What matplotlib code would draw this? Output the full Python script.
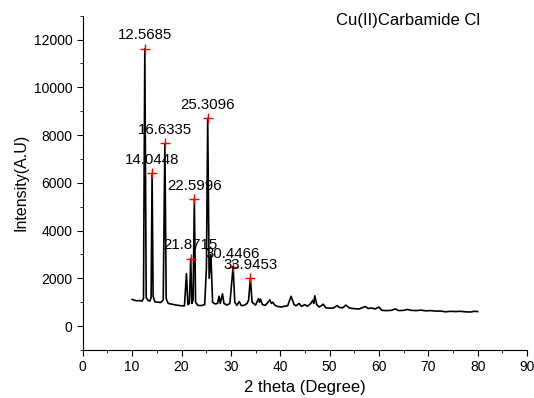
import matplotlib
matplotlib.use("Agg")
import matplotlib.pyplot as plt
from matplotlib.ticker import MultipleLocator

plt.rcParams['font.family'] = ['Liberation Sans', 'DejaVu Sans']

two_theta = [10.0, 10.5, 11.0, 11.5, 12.0, 12.3, 12.57, 12.85, 13.2, 13.6, 13.85, 14.04, 14.25,
             14.6, 15.2, 15.8, 16.3, 16.63, 16.9, 17.3, 18.0, 19.0, 20.0, 20.6, 21.0, 21.3, 21.6,
             21.87, 22.1, 22.35, 22.6, 22.85, 23.3, 24.0, 24.7, 25.05, 25.31, 25.6, 25.95, 26.3,
             26.8, 27.3, 27.6, 27.85, 28.3, 28.6, 29.2, 29.8, 30.45, 30.8, 31.2, 31.7, 32.1, 32.7,
             33.3, 33.6, 33.95, 34.3, 35.0, 35.6, 35.8, 36.0, 36.4, 37.0, 37.9, 38.2, 38.5, 38.9,
             39.5, 40.2, 40.8, 41.5, 42.2, 42.8, 43.2, 43.8, 44.3, 45.0, 45.5, 46.2, 46.6, 46.8,
             47.0, 47.4, 47.9, 48.3, 48.7, 49.2, 50.0, 50.8, 51.5, 52.0, 52.7, 53.3, 54.0, 55.0,
             56.0, 57.2, 57.8, 58.5, 59.2, 60.0, 60.6, 61.5, 62.5, 63.3, 64.0, 65.0, 65.8, 66.5,
             67.5, 68.5, 69.5, 70.5, 71.5, 72.5, 73.5, 74.5, 75.5, 76.5, 77.5, 78.5, 79.3, 80.0]
intensity = [1120, 1080, 1060, 1070, 1050, 1150, 11620, 1200, 1080, 1050, 1200, 6400, 1250,
             1020, 1000, 990, 1100, 7650, 1150, 950, 920, 880, 850, 850, 2200, 900, 950,
             2830, 950, 1100, 5330, 1000, 870, 860, 900, 2450, 8700, 2000, 3000, 1000,
             930, 950, 1250, 950, 1350, 950, 880, 950, 2480, 1000, 870, 1030, 860, 870,
             950, 1100, 2020, 1000, 880, 1150, 1000, 1130, 900, 870, 1100, 950, 1000, 880,
             820, 800, 830, 850, 1250, 900, 850, 950, 830, 900, 830, 950, 1080, 950,
             1270, 900, 800, 850, 920, 770, 750, 760, 860, 780, 770, 880, 760, 730,
             720, 820, 740, 760, 720, 800, 660, 650, 660, 720, 650, 660, 700, 660,
             650, 670, 640, 650, 630, 630, 600, 620, 610, 620, 600, 590, 620, 610]

peak_x = [12.5685, 14.0448, 16.6335, 21.8715, 22.5996, 25.3096, 30.4466, 33.9453]
peak_y = [11620, 6400, 7650, 2830, 5330, 8700, 2480, 2020]
peak_labels = ["12.5685", "14.0448", "16.6335", "21.8715", "22.5996", "25.3096", "30.4466", "33.9453"]

fig = plt.figure(figsize=(5.34, 3.98), dpi=100)
ax = fig.add_axes([0.155, 0.1206, 0.832, 0.84])
ax.plot(two_theta, intensity, color='black', lw=1.2)
ax.plot(peak_x, peak_y, '+', color='red', ms=7, mew=1.0)
for x, y, s in zip(peak_x, peak_y, peak_labels):
    ax.annotate(s, (x, y), xytext=(0, 4.5), textcoords='offset points',
                ha='center', va='bottom', fontsize=10.8)

ax.set_xlim(0, 90)
ax.set_ylim(-1000, 13000)
ax.xaxis.set_major_locator(MultipleLocator(10))
ax.xaxis.set_minor_locator(MultipleLocator(5))
ax.yaxis.set_major_locator(MultipleLocator(2000))
ax.yaxis.set_minor_locator(MultipleLocator(1000))
ax.set_yticks([0, 2000, 4000, 6000, 8000, 10000, 12000])
ax.spines['top'].set_visible(False)
ax.spines['right'].set_visible(False)
ax.tick_params(which='major', direction='out', length=4, labelsize=10)
ax.tick_params(which='minor', direction='out', length=2.5)
ax.set_xlabel('2 theta (Degree)', fontsize=12, labelpad=4)
ax.set_ylabel('Intensity(A.U)', fontsize=11.5, labelpad=4)
ax.text(51.2, 12810, 'Cu(II)Carbamide Cl', fontsize=12, va='center', ha='left')

fig.savefig('out.png', dpi=100)
